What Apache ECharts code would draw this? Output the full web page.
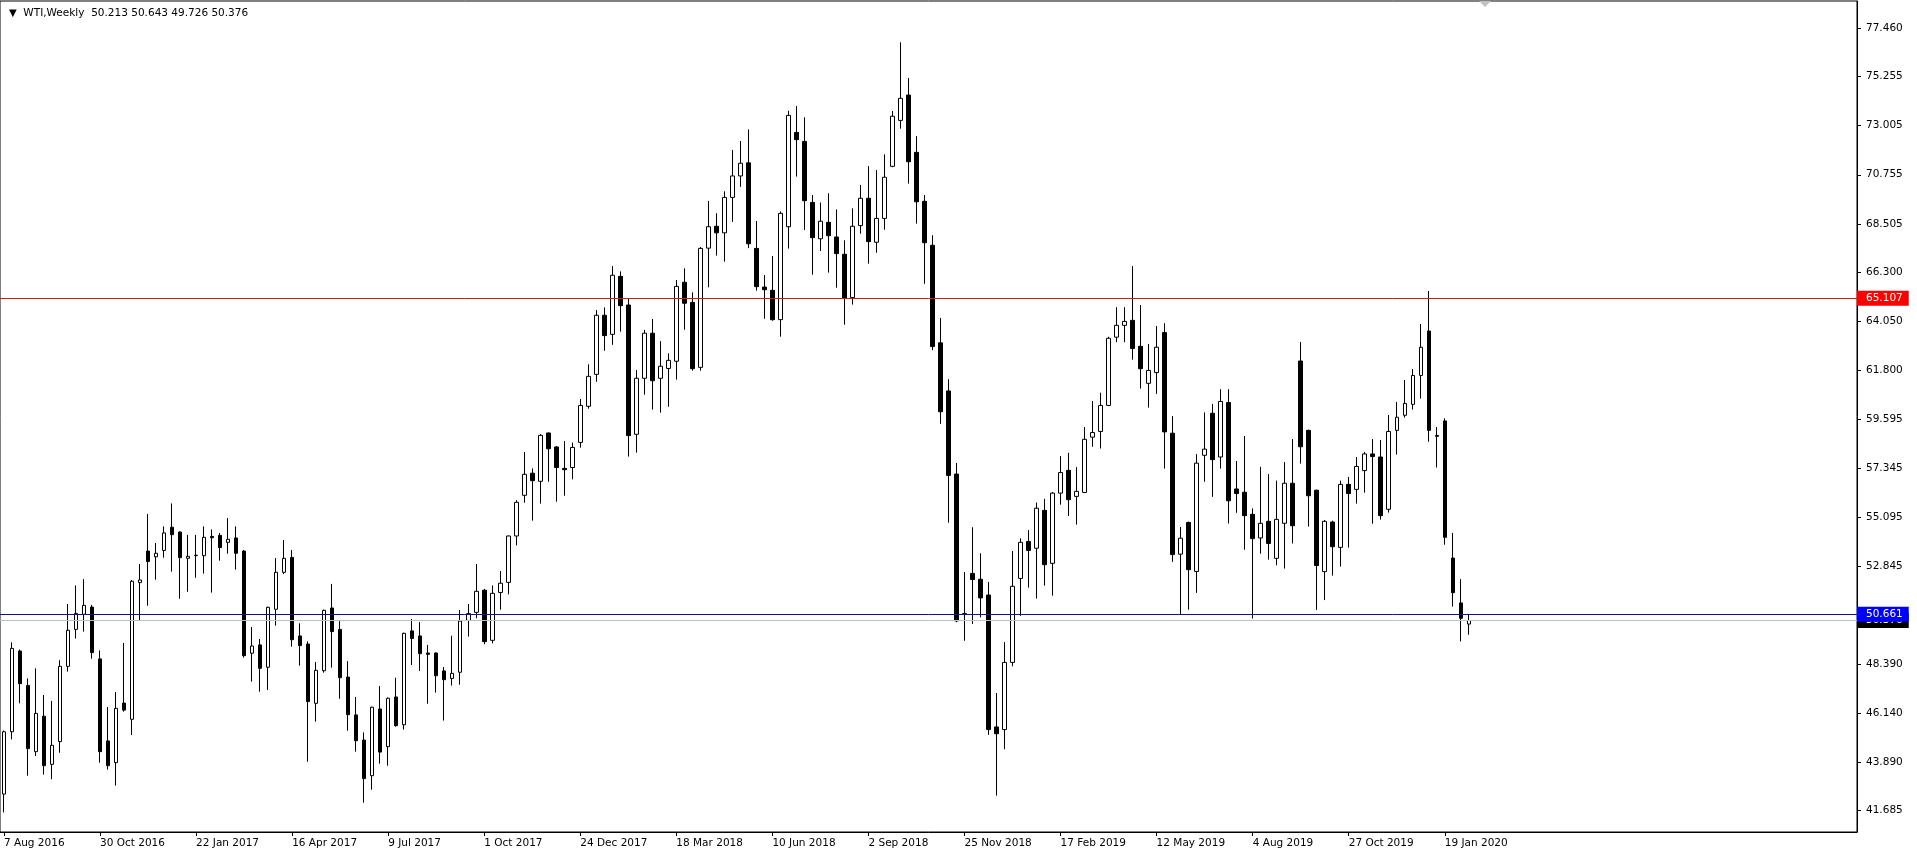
<!DOCTYPE html>
<html><head><meta charset="utf-8">
<script src="https://cdn.jsdelivr.net/npm/echarts@6/dist/echarts.min.js"></script>
<style>html,body{margin:0;padding:0;background:#fff}#c{width:1917px;height:856px}</style>
</head><body><div id="c"></div>
<script>
// Weekly WTI bars, first bar = week of 7 Aug 2016
const opens = [42.44,45.29,48.98,47.41,44.38,46.00,43.80,44.84,48.28,49.97,50.66,50.99,48.62,44.87,43.88,46.60,45.86,52.11,53.55,53.29,53.58,54.64,54.42,53.22,53.34,53.34,54.22,54.27,53.95,54.15,
53.55,48.88,49.26,48.24,50.89,52.58,53.26,49.67,49.30,46.59,48.08,50.95,49.97,47.79,46.06,44.91,43.28,46.33,44.61,46.88,45.61,49.90,49.67,48.89,48.89,48.07,47.73,48.01,50.38,50.75,
51.76,49.47,51.66,52.12,54.24,56.10,57.11,56.74,58.95,58.31,57.33,57.37,58.52,60.17,61.63,64.33,63.46,66.11,64.80,58.89,61.45,63.51,61.45,61.90,62.23,65.84,64.92,61.95,67.40,68.40,
68.10,69.72,70.70,71.30,67.39,65.62,65.47,64.13,68.38,72.69,72.28,69.49,67.83,68.58,67.91,67.12,65.14,68.43,69.68,67.67,68.76,71.14,73.24,74.40,71.78,69.54,67.53,63.07,60.87,57.07,
50.65,52.53,52.26,51.54,45.51,45.39,48.46,52.30,53.99,53.68,55.41,52.99,56.20,57.24,56.05,56.23,58.76,59.02,60.21,63.33,63.87,64.10,62.91,61.22,61.71,63.54,58.94,53.41,54.86,52.62,
57.93,59.85,57.85,60.34,56.39,56.24,55.23,54.15,54.91,53.22,54.82,56.65,62.24,59.07,56.33,52.61,54.88,53.72,56.60,56.37,57.23,57.99,57.85,55.46,59.07,59.76,60.26,61.58,63.61,58.84,
59.50,53.23,51.18,50.213];
const highs = [45.35,49.38,49.05,47.73,48.19,46.97,46.70,48.56,51.13,51.98,52.27,51.09,49.01,46.42,47.11,49.35,52.23,52.96,55.25,53.92,54.68,55.73,54.45,54.29,54.29,54.68,54.54,54.38,55.06,54.68,
53.60,50.08,49.53,51.01,53.23,54.06,53.60,50.25,49.42,48.48,50.88,52.05,50.35,48.52,46.88,45.26,46.44,47.38,46.86,47.76,49.82,50.45,50.31,49.26,48.92,48.25,49.68,50.86,51.13,52.96,
51.82,51.98,52.64,54.26,55.88,58.08,57.33,58.90,58.97,58.35,58.58,58.51,60.50,62.09,64.57,64.69,66.58,66.34,65.08,61.83,63.66,64.16,63.15,62.59,65.94,66.48,65.38,67.45,69.56,69.00,
70.00,71.89,72.30,72.83,68.64,66.17,67.04,69.08,73.68,73.90,73.38,69.83,69.49,69.91,69.17,67.76,69.22,70.29,71.15,70.97,71.69,73.67,76.81,75.18,72.52,69.83,67.99,64.21,61.41,57.58,
52.59,54.64,53.45,52.14,47.06,49.39,53.55,54.13,54.51,55.77,55.94,56.25,57.89,58.04,57.39,59.22,60.41,60.79,63.35,64.70,64.70,66.58,64.80,63.02,63.84,63.97,59.72,54.65,54.90,57.98,
59.89,60.28,60.95,60.95,57.67,58.81,55.50,57.40,57.07,56.77,57.62,58.67,63.11,59.10,56.36,54.97,54.94,56.77,56.94,57.85,58.08,58.67,58.63,59.77,60.37,61.37,61.87,63.93,65.44,59.22,
59.62,54.38,52.27,50.643];
const lows = [41.60,44.94,46.59,43.28,44.18,43.33,43.12,44.33,48.04,49.55,49.87,48.63,43.88,43.56,42.83,46.21,45.14,50.40,51.05,52.24,53.25,52.61,51.37,51.69,52.33,52.52,51.65,53.11,53.43,52.70,
48.68,47.58,47.12,47.20,50.14,52.50,49.18,48.31,43.92,45.75,47.99,48.22,46.80,45.34,44.38,42.05,42.64,43.83,43.74,45.52,45.39,48.34,48.07,46.57,47.08,45.80,47.40,47.44,49.64,50.48,
49.29,49.33,50.87,51.57,53.81,55.76,54.94,55.72,56.72,55.81,56.08,56.83,58.28,60.06,61.29,62.71,62.98,63.58,57.87,58.05,60.70,60.02,59.88,60.15,61.39,63.67,61.80,61.80,65.61,67.06,
66.78,68.60,70.20,67.40,65.46,64.17,64.08,63.35,67.38,70.67,68.23,66.19,67.27,66.28,65.59,63.90,64.82,68.06,66.69,67.19,68.24,71.10,72.86,70.35,68.52,65.77,62.73,59.37,54.85,50.30,
49.45,50.22,50.52,45.15,42.37,44.49,48.28,50.59,51.88,51.38,51.97,51.51,55.67,55.15,54.76,56.20,58.32,58.24,60.18,63.10,63.10,62.30,60.98,60.11,60.74,57.32,53.06,50.66,50.87,51.64,
56.72,56.03,57.32,54.81,55.30,53.61,50.47,53.43,53.16,52.90,52.75,53.90,57.55,54.67,50.86,51.31,52.43,52.84,53.71,55.72,56.22,54.80,54.99,55.31,57.96,59.65,60.02,60.52,58.55,57.37,
53.84,51.01,49.42,49.726];
const closes = [45.29,49.10,47.49,44.52,46.13,43.74,44.67,48.28,49.93,50.70,51.07,48.91,44.38,43.74,46.36,46.28,52.17,52.23,53.07,53.45,54.38,54.30,53.25,53.31,53.36,54.18,54.16,53.71,54.09,53.45,
48.77,49.21,48.19,50.98,52.58,53.22,49.50,49.23,46.67,48.10,50.84,49.87,47.76,46.07,44.88,43.15,46.41,44.36,46.82,45.57,49.79,49.55,48.86,48.83,47.85,47.67,47.96,50.35,50.69,51.71,
49.41,51.62,52.08,54.24,55.78,57.06,56.77,58.84,58.23,57.37,57.27,58.29,60.21,61.54,64.33,63.40,66.16,64.77,58.83,61.45,63.51,61.34,62.00,62.27,65.65,64.88,61.89,67.39,68.38,68.10,
69.72,70.70,71.28,67.60,65.64,65.50,64.13,68.99,73.47,72.36,69.57,67.88,68.63,67.97,67.15,65.12,68.40,69.68,67.70,68.76,70.64,73.43,74.25,71.35,69.52,67.65,62.90,59.92,57.01,50.36,
50.70,52.25,51.41,45.39,45.20,48.46,51.94,53.95,53.58,55.51,52.93,56.20,57.14,55.90,56.28,58.66,58.97,60.21,63.28,63.87,64.05,62.81,61.89,61.81,62.87,59.00,53.39,54.14,52.70,57.57,
58.21,57.73,60.39,55.85,56.18,55.17,54.12,54.82,53.90,55.00,56.65,54.71,58.32,56.08,52.89,54.91,53.75,56.60,56.18,57.42,57.99,57.87,55.17,59.02,59.67,60.30,61.58,62.87,59.07,58.80,
54.18,51.65,50.48,50.376];
// one date label every 12 weekly bars
const tickLabels = ['7 Aug 2016','30 Oct 2016','22 Jan 2017','16 Apr 2017','9 Jul 2017','1 Oct 2017','24 Dec 2017','18 Mar 2018','10 Jun 2018','2 Sep 2018','25 Nov 2018','17 Feb 2019','12 May 2019','4 Aug 2019','27 Oct 2019','19 Jan 2020'];
const priceTicks = [77.460,75.255,73.005,70.755,68.505,66.300,64.050,61.800,59.595,57.345,55.095,52.845,48.390,46.140,43.890,41.685];
const levelRed = 65.107;
const levelBlue = 50.661;
const bidPrice = 50.376;
const headerText = 'WTI,Weekly  50.213 50.643 49.726 50.376';

const LABEL_EVERY = 12;
const TOTAL_SLOTS = 232; // bars + empty chart-shift area on the right
const categories = [];
for (let i = 0; i < TOTAL_SLOTS; i++) categories.push(String(i));
const ohlc = opens.map((o, i) => [o, closes[i], lows[i], highs[i]]);
const isTick = (idx) => idx % LABEL_EVERY === 0 && idx / LABEL_EVERY < tickLabels.length;

const FONT = 'DejaVu Sans';
const chart = echarts.init(document.getElementById('c'), null, {renderer: 'canvas'});
chart.setOption({
  animation: false,
  backgroundColor: '#ffffff',
  title: {
    text: '{t|▼}  ' + headerText,
    left: 4, top: 3,
    textStyle: {fontFamily: FONT, fontSize: 10.5, fontWeight: 'normal', color: '#000',
      rich: {t: {fontSize: 10, color: '#000', fontFamily: FONT}}}
  },
  grid: {left: 0, right: 60, top: 1, bottom: 24, show: true, borderColor: '#000', borderWidth: 1, backgroundColor: 'transparent'},
  xAxis: {
    type: 'category', data: categories, boundaryGap: true,
    axisLine: {show: true, lineStyle: {color: '#000', width: 1}},
    axisTick: {show: true, alignWithLabel: true, length: 4, interval: (idx) => isTick(idx), lineStyle: {color: '#000'}},
    axisLabel: {show: true, interval: (idx) => isTick(idx), align: 'left', margin: 6,
      fontFamily: FONT, fontSize: 10.5, color: '#000',
      formatter: (v, idx) => isTick(idx) ? tickLabels[idx / LABEL_EVERY] : ''},
    splitLine: {show: false}
  },
  yAxis: {
    type: 'value', position: 'right', min: 40.707, max: 78.699, scale: true,
    axisLine: {show: true, lineStyle: {color: '#000', width: 1}},
    axisTick: {show: true, length: 4, customValues: priceTicks, lineStyle: {color: '#000'}},
    axisLabel: {show: true, customValues: priceTicks, margin: 9, fontFamily: FONT, fontSize: 10.5, color: '#000',
      formatter: (v) => v.toFixed(3)},
    splitLine: {show: false}
  },
  series: [{
    type: 'candlestick',
    data: ohlc,
    barWidth: 4,
    itemStyle: {color: '#ffffff', color0: '#000000', borderColor: '#000000', borderColor0: '#000000', borderWidth: 1},
    markLine: {
      silent: true, symbol: ['none', 'none'], animation: false,
      label: {show: true, position: 'end', distance: 0, color: '#fff', fontFamily: FONT, fontSize: 10.5,
        padding: [2, 6, 2, 9]},
      data: [
        {yAxis: bidPrice, lineStyle: {color: '#c0c0c0', width: 1, type: 'solid'},
          label: {backgroundColor: '#000000', formatter: bidPrice.toFixed(3)}},
        {yAxis: levelRed, lineStyle: {color: '#c81e1e', width: 1, type: 'solid'},
          label: {backgroundColor: '#ff0000', formatter: levelRed.toFixed(3)}},
        {yAxis: levelBlue, lineStyle: {color: '#101090', width: 1, type: 'solid'},
          label: {backgroundColor: '#0000ff', formatter: levelBlue.toFixed(3)}}
      ]
    }
  }],
  graphic: [{
    type: 'polygon', shape: {points: [[1479, 1], [1491, 1], [1485, 7]]}, style: {fill: '#c0c0c0'}
  }]
});
</script></body></html>
